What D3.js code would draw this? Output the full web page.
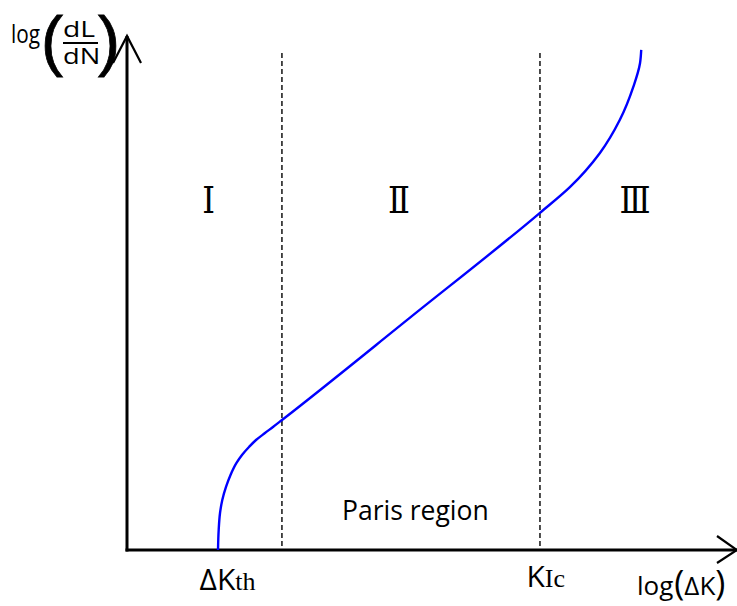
<!DOCTYPE html>
<html>
<head>
<meta charset="utf-8">
<script src="https://cdn.jsdelivr.net/npm/d3@7"></script>
<style>
  html, body { margin: 0; padding: 0; background: #fff; }
  svg { display: block; }
  text { font-family: "Open Sans", "Noto Sans", sans-serif; fill: #000; }
</style>
</head>
<body>
<svg id="chart" width="737" height="606"></svg>
<script>
// Crack growth rate curve (log dL/dN vs log ΔK), schematic units 0–100
const curveX = [14.92, 15.03, 15.25, 15.62, 16.23, 16.97, 17.95, 18.85, 20.0, 21.15, 22.62, 23.93, 25.41,
                46.6, 67.7, 72.6, 77.5, 80.8, 83.0, 84.1, 84.3];
const curveY = [0.0, 3.89, 7.20, 9.73, 12.26, 14.59, 16.93, 18.48, 20.04, 21.40, 22.76, 23.93, 25.29,
                45.4, 65.6, 70.6, 77.2, 83.7, 90.1, 94.7, 97.3];

// Region boundaries and the threshold value on the ΔK axis
const thresholdK = 14.92;        // ΔKth
const boundaries = [25.4, 67.7]; // I|II and II|III (KIc)
const boundaryTop = 96.7;

// Region labels
const regionNames = ["Ⅰ", "Ⅱ", "Ⅲ"];
const regionCentres = [13.4, 44.6, 83.3];
const regionLabelY = 65.6;

const svg = d3.select("#chart");

const x = d3.scaleLinear().domain([0, 100]).range([127, 737]);
const y = d3.scaleLinear().domain([0, 100]).range([550, 36]);

// Axes (domain lines only; ticks are labelled below)
const xAxis = d3.axisBottom(x)
  .tickValues([thresholdK, boundaries[1]])
  .tickSize(0)
  .tickPadding(0)
  .tickFormat("");
const gx = svg.append("g").attr("transform", `translate(0,${y(0)})`).call(xAxis);
gx.select(".domain").attr("d", `M${x(0) - 1.5},0H${x(100)}`).attr("stroke", "#000").attr("stroke-width", 3);

const yAxis = d3.axisLeft(y).tickValues([]).tickSize(0);
const gy = svg.append("g").attr("transform", `translate(${x(0)},0)`).call(yAxis);
gy.select(".domain").attr("d", `M0,${y(0) + 1.5}V${y(100)}`).attr("stroke", "#000").attr("stroke-width", 3);

// Open arrowheads
svg.append("path")
  .attr("d", `M${x(0) - 14},${y(100) + 27}L${x(0)},${y(100)}L${x(0) + 14},${y(100) + 27}`)
  .attr("fill", "none").attr("stroke", "#000").attr("stroke-width", 2.2);
svg.append("path")
  .attr("d", `M${x(100) - 20},${y(0) - 14}L${x(100)},${y(0)}L${x(100) - 20},${y(0) + 13}`)
  .attr("fill", "none").attr("stroke", "#000").attr("stroke-width", 2.2);

// Tick labels: ΔKth and KIc with serif subscripts
const tickTexts = gx.selectAll(".tick text").attr("y", 0).attr("dy", 0);
tickTexts.each(function(d, i) {
  const t = d3.select(this)
    .attr("text-anchor", "start")
    .attr("fill", "#000")
    .attr("x", i === 0 ? -19 : -14)
    .attr("y", i === 0 ? 40 : 37)
    .style("font-family", '"Open Sans", sans-serif')
    .style("font-size", "30px");
  t.text(null);
  t.append("tspan").text(i === 0 ? "ΔK" : "K");
  t.append("tspan")
    .style("font-family", '"Liberation Serif", serif')
    .style("font-size", "26px")
    .text(i === 0 ? "th" : "Ic");
});

// Boundary dashed lines
svg.append("g").selectAll("line")
  .data(boundaries)
  .join("line")
  .attr("x1", d => x(d)).attr("x2", d => x(d))
  .attr("y1", y(boundaryTop)).attr("y2", y(0))
  .attr("stroke", "#000").attr("stroke-width", 1.4)
  .attr("stroke-dasharray", "5,3");

// Region numerals
svg.append("g").selectAll("text")
  .data(regionNames)
  .join("text")
  .attr("transform", (d, i) => `translate(${x(regionCentres[i])},${y(regionLabelY)}) scale(0.85,1)`)
  .attr("text-anchor", "middle")
  .style("font-family", '"DejaVu Serif", "Liberation Serif", serif')
  .style("font-size", "38px")
  .text(d => d);

// The curve
const pts = curveX.map((v, i) => [v, curveY[i]]);
svg.append("path")
  .datum(pts)
  .attr("d", d3.line().x(d => x(d[0])).y(d => y(d[1])).curve(d3.curveMonotoneY))
  .attr("fill", "none")
  .attr("stroke", "#0000ff")
  .attr("stroke-width", 2.4);

// Region caption
svg.append("text")
  .attr("x", 342).attr("y", 520)
  .style("font-size", "26.5px")
  .text("Paris region");

// X axis title: log(ΔK)
const xt = svg.append("text").attr("x", 637).attr("y", 595).style("font-size", "26px");
xt.append("tspan").text("log");
xt.append("tspan").style("font-size", "34px").attr("dx", 1).text("(");
xt.append("tspan").text("ΔK");
xt.append("tspan").style("font-size", "34px").text(")");

// Y axis title: log(dL/dN)
const yt = svg.append("g");
yt.append("text").attr("transform", "translate(11,43) scale(0.8,1)").style("font-size", "26px").text("log");
yt.append("text").attr("x", 41).attr("y", 63)
  .style("font-family", '"Liberation Sans", sans-serif').style("font-size", "66px")
  .attr("stroke", "#000").attr("stroke-width", 0.8).text("(");
yt.append("text").attr("transform", "translate(63,37) scale(1.35,1)").style("font-size", "21px").text("dL");
yt.append("line").attr("x1", 63).attr("x2", 98).attr("y1", 43).attr("y2", 43)
  .attr("stroke", "#000").attr("stroke-width", 2);
yt.append("text").attr("transform", "translate(63,64) scale(1.3,1)").style("font-size", "21px").text("dN");
yt.append("text").attr("x", 98).attr("y", 63)
  .style("font-family", '"Liberation Sans", sans-serif').style("font-size", "66px")
  .attr("stroke", "#000").attr("stroke-width", 0.8).text(")");
</script>
</body>
</html>
